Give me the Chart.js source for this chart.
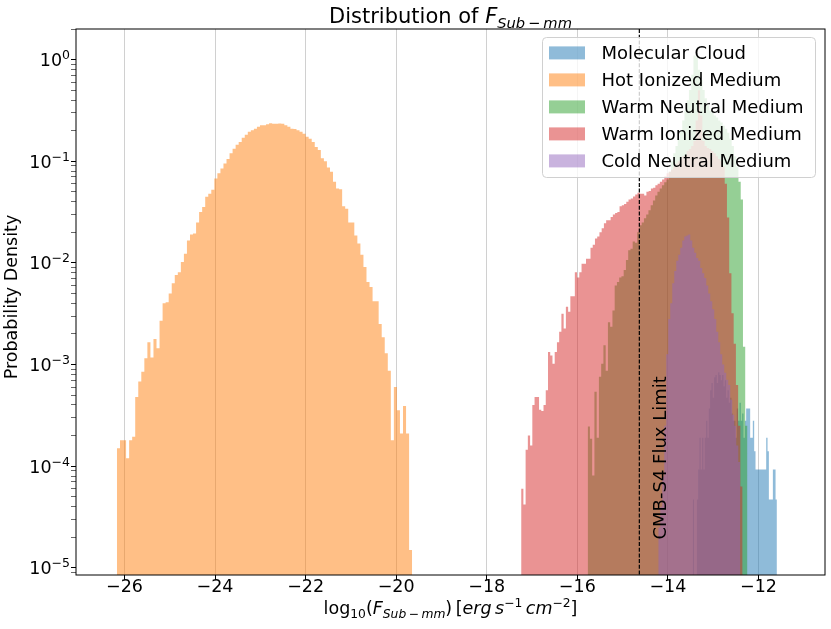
<!DOCTYPE html>
<html>
<head>
<meta charset="utf-8">
<title>Distribution of F Sub-mm</title>
<script src="https://cdn.jsdelivr.net/npm/chart.js@4.4.0/dist/chart.umd.min.js"></script>
<style>
  html, body { margin: 0; padding: 0; background: #ffffff; }
  #wrap { width: 831px; height: 629px; }
</style>
</head>
<body>
<div id="wrap"><canvas id="myChart" width="831" height="629"></canvas></div>
<script>
'use strict';

// ** DATA **

const seriesNames = ['Molecular Cloud', 'Hot Ionized Medium', 'Warm Neutral Medium', 'Warm Ionized Medium', 'Cold Neutral Medium'];

// each histogram: left edge of first bin, bin width (log10 flux), densities per bin
const molecularStart = -13.51;
const molecularWidth = 0.0295;
const molecularValues = [
  4.7e-5, 0, 4.7e-5, 4.7e-5, 0, 9.3e-5, 4.7e-5, 9.3e-5, 1.9e-4, 9.3e-5,
  1.9e-4, 9.3e-5, 1.9e-4, 2.8e-4, 1.9e-4, 3.7e-4, 5.6e-4, 6.6e-4, 4.7e-4, 7.5e-4,
  7.9e-4, 6.6e-4, 8.4e-4, 7.9e-4, 7.0e-4, 7.9e-4, 6.1e-4, 7.0e-4, 4.7e-4, 5.6e-4,
  4.2e-4, 4.7e-4, 3.3e-4, 2.8e-4, 2.8e-4, 1.9e-4, 3.7e-4, 2.8e-4, 4.2e-4, 2.8e-4,
  3.3e-4, 1.9e-4, 2.8e-4, 3.7e-4, 3.7e-4, 3.7e-4, 1.9e-4, 1.9e-4, 2.8e-4, 1.4e-4,
  9.3e-5, 9.3e-5, 9.3e-5, 9.3e-5, 9.3e-5, 9.3e-5, 9.3e-5, 9.3e-5, 1.9e-4, 1.4e-4,
  4.7e-5, 4.7e-5, 4.7e-5, 9.3e-5, 9.3e-5, 4.7e-5, 0, 4.7e-5, 0, 4.7e-5,
  0, 4.7e-5, 0, 0, 0, 1.9e-4
];

const hotStart = -26.30;
const hotWidth = 0.0672;
const hotValues = [
  2.1e-4, 0, 1.2e-4, 1.5e-4, 1.8e-4, 1.8e-4, 1.2e-4, 1.8e-4, 1.95e-4, 4.8e-4,
  6.8e-4, 8.5e-4, 1.15e-3, 1.66e-3, 1.17e-3, 1.78e-3, 1.45e-3, 2.7e-3, 4.0e-3, 4.1e-3,
  5.0e-3, 6.3e-3, 7.6e-3, 8.1e-3, 1.02e-2, 1.23e-2, 1.66e-2, 1.9e-2, 1.95e-2, 2.5e-2,
  3.16e-2, 3.55e-2, 4.47e-2, 4.8e-2, 5.25e-2, 6.76e-2, 7.6e-2, 8.5e-2, 9.5e-2, 0.105,
  0.120, 0.133, 0.145, 0.155, 0.170, 0.182, 0.195, 0.202, 0.209, 0.219,
  0.226, 0.226, 0.231, 0.237, 0.234, 0.234, 0.235, 0.234, 0.226, 0.219,
  0.209, 0.208, 0.202, 0.195, 0.186, 0.174, 0.166, 0.155, 0.138, 0.129,
  0.107, 0.100, 0.087, 0.079, 0.063, 0.054, 0.053, 0.036, 0.034, 0.025,
  0.025, 0.0186, 0.0155, 0.012, 0.0091, 0.0065, 0.0058, 0.0042, 0.0042, 0.0025,
  0.00186, 0.00129, 0.00087, 1.8e-4, 6.0e-4, 3.55e-4, 2.1e-4, 3.9e-4, 2.1e-4, 1.5e-5
];

const warmNeutralStart = -15.92;
const warmNeutralWidth = 0.0497;
const warmNeutralValues = [
  5.5e-5, 0, 0, 1.33e-4, 2.45e-4, 1.86e-4, 8.1e-5, 5.4e-4, 1.9e-4, 7.6e-4,
  1.02e-3, 1.55e-3, 8.7e-4, 2.6e-3, 2.35e-3, 3.4e-3, 6.0e-3, 6.5e-3, 7.2e-3, 7.4e-3,
  8.5e-3, 1.07e-2, 1.33e-2, 1.38e-2, 1.62e-2, 1.58e-2, 2.0e-2, 2.35e-2, 2.5e-2, 2.75e-2,
  3.0e-2, 3.3e-2, 3.7e-2, 4.1e-2, 4.6e-2, 5.0e-2, 5.4e-2, 5.8e-2, 6.2e-2, 6.6e-2,
  7.9e-2, 0.100, 0.120, 0.141, 0.166, 0.200, 0.251, 0.316, 0.398, 0.501,
  0.708, 1.10, 1.05, 0.794, 0.631, 0.501, 0.417, 0.355, 0.316, 0.302,
  0.282, 0.269, 0.251, 0.240, 0.224, 0.209, 0.191, 0.166, 0.141, 0.112,
  0.089, 0.063, 0.042, 1.5e-3, 2.5e-4
];

const warmIonizedStart = -17.24;
const warmIonizedWidth = 0.0494;
const warmIonizedValues = [
  8.1e-5, 6.0e-5, 4.2e-5, 1.45e-4, 2.0e-4, 1.6e-4, 4.0e-4, 4.8e-4, 4.8e-4, 3.6e-4,
  3.5e-4, 4.0e-4, 5.6e-4, 1.33e-3, 1.23e-3, 1.02e-3, 1.33e-3, 1.66e-3, 2.1e-3, 3.16e-3,
  2.26e-3, 3.7e-3, 3.3e-3, 4.7e-3, 4.7e-3, 8.1e-3, 7.2e-3, 8.1e-3, 9.8e-3, 9.8e-3,
  1.1e-2, 1.1e-2, 1.41e-2, 1.51e-2, 1.74e-2, 1.82e-2, 2.0e-2, 2.19e-2, 2.45e-2, 2.63e-2,
  2.63e-2, 2.82e-2, 3.0e-2, 3.1e-2, 3.16e-2, 3.6e-2, 3.7e-2, 3.8e-2, 4.0e-2, 4.2e-2,
  4.3e-2, 4.5e-2, 4.7e-2, 4.9e-2, 4.8e-2, 4.8e-2, 4.6e-2, 5.0e-2, 5.1e-2, 5.4e-2,
  5.5e-2, 5.8e-2, 6.0e-2, 6.3e-2, 6.6e-2, 7.1e-2, 7.6e-2, 7.9e-2, 8.3e-2, 8.9e-2,
  9.5e-2, 0.100, 0.105, 0.112, 0.112, 0.126, 0.132, 0.141, 0.158, 0.251,
  0.50, 0.282, 0.158, 0.141, 0.135, 0.132, 0.126, 0.120, 0.112, 0.105,
  0.100, 0.089, 0.060, 0.028, 7.9e-3, 3.2e-3, 1.6e-3, 6.3e-4, 2.5e-4, 6.3e-5
];

const coldNeutralStart = -14.212;
const coldNeutralWidth = 0.04415;
const coldNeutralValues = [
  1.6e-5, 2.5e-5, 4.0e-5, 7.9e-5, 2.5e-4, 1.26e-3, 2.8e-3, 4.0e-3, 6.3e-3, 8.3e-3,
  1.05e-2, 1.2e-2, 1.41e-2, 1.66e-2, 1.82e-2, 1.86e-2, 1.9e-2, 1.66e-2, 1.41e-2, 1.26e-2,
  1.12e-2, 1.05e-2, 8.9e-3, 7.9e-3, 7.1e-3, 6.0e-3, 5.0e-3, 4.2e-3, 3.5e-3, 2.8e-3,
  2.1e-3, 1.66e-3, 1.26e-3, 1.0e-3, 8.3e-4, 7.1e-4, 6.3e-4, 4.5e-4, 3.2e-4, 2.5e-4,
  1.6e-4, 1.1e-4
];

const fluxLimit = -14.63;
const fluxLimitLabel = 'CMB-S4 Flux Limit';

const xMin = -27.07;
const xMax = -10.53;
const xTicks = [-26, -24, -22, -20, -18, -16, -14, -12];
const xTickLabels = ['−26', '−24', '−22', '−20', '−18', '−16', '−14', '−12'];

const yMin = 8.5e-6;
const yMax = 2.0;
const yTicks = [1e-5, 1e-4, 1e-3, 1e-2, 1e-1, 1];
const yTickExponents = ['−5', '−4', '−3', '−2', '−1', '0'];

// ** STYLE **

const FONT = 'DejaVu Sans';
const seriesColors = [
  'rgba(31,119,180,0.5)',
  'rgba(255,127,14,0.5)',
  'rgba(44,160,44,0.5)',
  'rgba(214,39,40,0.5)',
  'rgba(148,103,189,0.5)'
];

// ** HELPERS **

// stepped outline of a histogram: one point per bin left edge, closed at the last right edge
function histPoints(start, width, values) {
  let points = [];
  for (let i = 0; i < values.length; i++) {
    points.push({ x: start + i * width, y: values[i] });
  }
  points.push({ x: start + values.length * width, y: 0 });
  return points;
}

// draws a run of text pieces [text, font, rise] side by side
function drawPieces(ctx, pieces, x, y, align) {
  let total = 0;
  for (const p of pieces) {
    ctx.font = p[1];
    total += ctx.measureText(p[0]).width;
  }
  let cursor = x;
  if (align === 'center') cursor = x - total / 2;
  if (align === 'right') cursor = x - total;
  ctx.textAlign = 'left';
  ctx.textBaseline = 'alphabetic';
  for (const p of pieces) {
    ctx.font = p[1];
    ctx.fillText(p[0], cursor, y - (p[2] || 0));
    cursor += ctx.measureText(p[0]).width;
  }
}

// minor ticks of the log axis (2..9 in every decade)
let yTickValues = [];
for (let d = 0; d < yTicks.length; d++) {
  for (let m = 1; m <= 9; m++) {
    let v = yTicks[d] * m;
    if (v <= yMax) yTickValues.push(v);
  }
}
for (let m = 9; m >= 1; m--) {
  if (yTicks[0] / 10 * m >= yMin) yTickValues.unshift(yTicks[0] / 10 * m);
}

// ** PLUGINS **

const fluxLinePlugin = {
  id: 'fluxLine',
  afterDatasetsDraw(chart) {
    const ctx = chart.ctx;
    const area = chart.chartArea;
    const xs = chart.scales.x;
    const ys = chart.scales.y;
    const px = xs.getPixelForValue(fluxLimit);
    ctx.save();
    ctx.strokeStyle = '#000';
    ctx.lineWidth = 1.2;
    ctx.setLineDash([4, 1.7]);
    ctx.beginPath();
    ctx.moveTo(px, area.top);
    ctx.lineTo(px, area.bottom);
    ctx.stroke();
    ctx.setLineDash([]);

    ctx.translate(xs.getPixelForValue(fluxLimit + 0.48), ys.getPixelForValue(1.9e-5));
    ctx.rotate(-Math.PI / 2);
    ctx.fillStyle = '#000';
    ctx.font = '18px ' + FONT;
    ctx.textAlign = 'left';
    ctx.textBaseline = 'middle';
    ctx.fillText(fluxLimitLabel, 0, 0);
    ctx.restore();
  }
};

const decorPlugin = {
  id: 'decor',
  afterDraw(chart) {
    const ctx = chart.ctx;
    const area = chart.chartArea;
    const ys = chart.scales.y;
    ctx.save();

    // plot frame
    ctx.strokeStyle = '#000';
    ctx.lineWidth = 1;
    ctx.strokeRect(area.left, area.top, area.right - area.left, area.bottom - area.top);

    // legend box, upper right inside the axes
    const boxRight = area.right - 9.5;
    const boxTop = area.top + 8.5;
    const boxLeft = boxRight - 273;
    const boxBottom = boxTop + 140;
    ctx.beginPath();
    ctx.roundRect(boxLeft, boxTop, boxRight - boxLeft, boxBottom - boxTop, 4);
    ctx.fillStyle = 'rgba(255,255,255,0.8)';
    ctx.fill();
    ctx.strokeStyle = '#d0d0d0';
    ctx.lineWidth = 1;
    ctx.stroke();
    for (let i = 0; i < seriesNames.length; i++) {
      const cy = boxTop + 15.4 + i * 27;
      ctx.fillStyle = seriesColors[i];
      ctx.fillRect(boxLeft + 6.5, cy - 6.5, 36, 13);
      ctx.fillStyle = '#000';
      ctx.font = '18px ' + FONT;
      ctx.textAlign = 'left';
      ctx.textBaseline = 'middle';
      ctx.fillText(seriesNames[i], boxLeft + 59, cy + 1);
    }

    ctx.fillStyle = '#000';

    // y tick labels 10^n
    for (let i = 0; i < yTicks.length; i++) {
      const py = ys.getPixelForValue(yTicks[i]);
      drawPieces(ctx, [
        ['10', '17.5px ' + FONT, 0],
        [yTickExponents[i], '12.5px ' + FONT, 7]
      ], area.left - 6, py + 6.4, 'right');
    }

    const cx = (area.left + area.right) / 2;

    // title
    drawPieces(ctx, [
      ['Distribution of ', '21px ' + FONT, 0],
      ['F', 'italic 21px ' + FONT, 0],
      ['Sub', 'italic 14.7px ' + FONT, -5],
      ['\u2009−\u2009', '14.7px ' + FONT, -5],
      ['mm', 'italic 14.7px ' + FONT, -5]
    ], cx, 23, 'center');

    // x axis label
    drawPieces(ctx, [
      ['log', '17.5px ' + FONT, 0],
      ['10', '12.3px ' + FONT, -4],
      ['(', '17.5px ' + FONT, 0],
      ['F', 'italic 17.5px ' + FONT, 0],
      ['Sub', 'italic 12.3px ' + FONT, -4],
      ['\u2009−\u2009', '12.3px ' + FONT, -4],
      ['mm', 'italic 12.3px ' + FONT, -4],
      [')', '17.5px ' + FONT, 0],
      ['\u2009[', '17.5px ' + FONT, 0],
      ['erg', 'italic 17.5px ' + FONT, 0],
      ['\u2009s', 'italic 17.5px ' + FONT, 0],
      ['−1', '12.3px ' + FONT, 7],
      ['\u2009cm', 'italic 17.5px ' + FONT, 0],
      ['−2', '12.3px ' + FONT, 7],
      [']', '17.5px ' + FONT, 0]
    ], cx, 614, 'center');

    // y axis label
    ctx.translate(12, 297);
    ctx.rotate(-Math.PI / 2);
    ctx.font = '17.5px ' + FONT;
    ctx.textAlign = 'center';
    ctx.textBaseline = 'middle';
    ctx.fillText('Probability Density', 0, 0);
    ctx.restore();
  }
};

// ** CREATE CHART **

const ctx = document.getElementById('myChart');

const histograms = [
  histPoints(molecularStart, molecularWidth, molecularValues),
  histPoints(hotStart, hotWidth, hotValues),
  histPoints(warmNeutralStart, warmNeutralWidth, warmNeutralValues),
  histPoints(warmIonizedStart, warmIonizedWidth, warmIonizedValues),
  histPoints(coldNeutralStart, coldNeutralWidth, coldNeutralValues)
];

let datasets = [];
for (let i = 0; i < histograms.length; i++) {
  datasets.push({
    label: seriesNames[i],
    data: histograms[i],
    stepped: 'after',
    fill: 'start',
    backgroundColor: seriesColors[i],
    borderColor: 'rgba(0,0,0,0)',
    borderWidth: 0,
    pointRadius: 0,
    pointHoverRadius: 0,
    order: histograms.length - i // later series are drawn on top, like matplotlib
  });
}

let myChartObj = {
  type: 'line',
  data: { datasets: datasets },
  options: {
    responsive: false,
    animation: false,
    events: [],
    layout: { padding: { left: 0, right: 6, top: 29, bottom: 0 } },
    plugins: {
      legend: { display: false },
      tooltip: { enabled: false },
      title: { display: false }
    },
    scales: {
      x: {
        type: 'linear',
        min: xMin,
        max: xMax,
        z: 1,
        afterBuildTicks: (scale) => { scale.ticks = xTicks.map(v => ({ value: v })); },
        afterFit: (scale) => { scale.height = 54; },
        ticks: {
          autoSkip: false,
          maxRotation: 0,
          padding: -3,
          color: '#000',
          font: { family: FONT, size: 17.5 },
          callback: (value) => xTickLabels[xTicks.indexOf(value)]
        },
        grid: {
          color: 'rgba(176,176,176,0.6)',
          lineWidth: 1,
          tickColor: '#000',
          tickLength: 5
        },
        border: { display: false }
      },
      y: {
        type: 'logarithmic',
        min: yMin,
        max: yMax,
        afterBuildTicks: (scale) => { scale.ticks = yTickValues.map(v => ({ value: v })); },
        afterFit: (scale) => { scale.width = 76; },
        ticks: { autoSkip: false, callback: () => '' },
        grid: {
          drawOnChartArea: false,
          tickLength: 5,
          tickColor: '#000',
          tickWidth: (c) => (yTicks.includes(c.tick.value) ? 1 : 0.6)
        },
        border: { display: false }
      }
    }
  },
  plugins: [fluxLinePlugin, decorPlugin]
};

new Chart(ctx, myChartObj);
</script>
</body>
</html>
